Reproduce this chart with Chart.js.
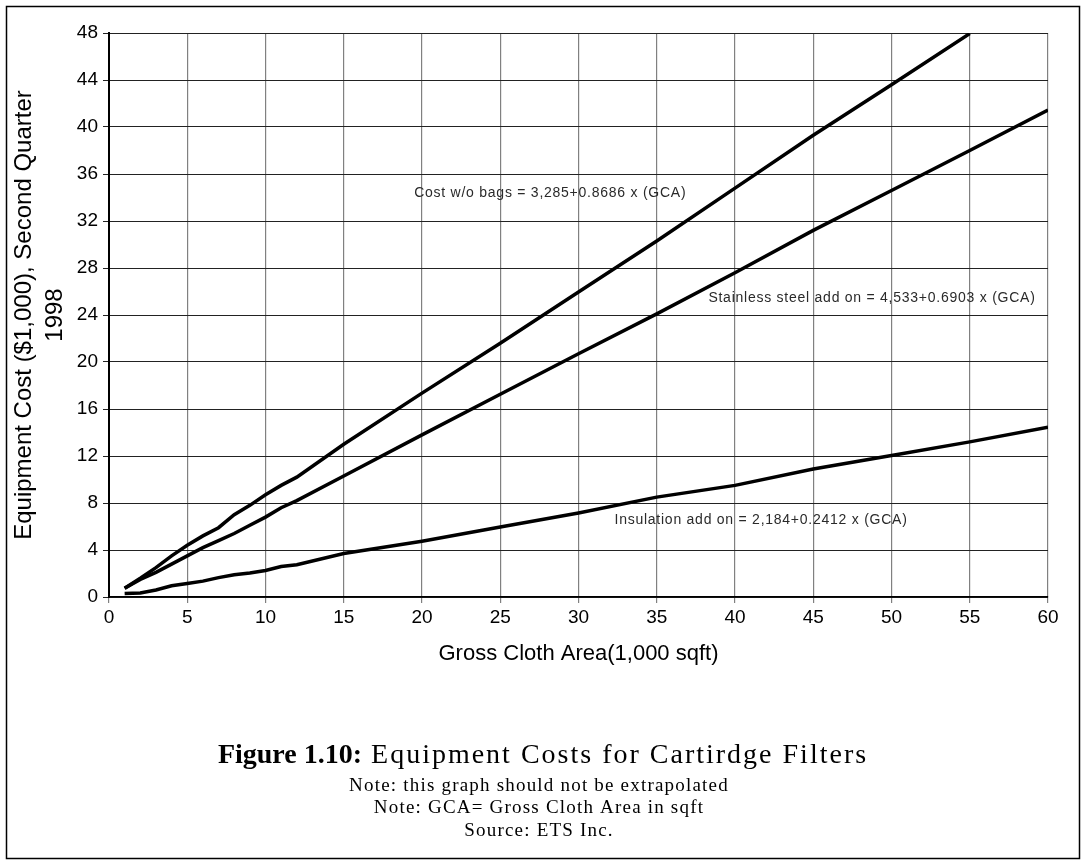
<!DOCTYPE html>
<html>
<head>
<meta charset="utf-8">
<script src="https://cdn.jsdelivr.net/npm/chart.js@4"></script>
<style>
  html, body { margin: 0; padding: 0; background: #fff; }
  #wrap { width: 1086px; height: 866px; }
</style>
</head>
<body>
<div id="wrap"><canvas id="myChart" width="1086" height="866"></canvas></div>
<script>
// Gross cloth area (1,000 sqft)
const gca = [1, 2, 3, 4, 5, 6, 7, 8, 9, 10, 11, 12, 15, 20, 25, 30, 35, 40, 45, 50, 55, 60];

// Equipment cost ($1,000)
const costWoBags = [0.75, 1.6, 2.5, 3.5, 4.4, 5.2, 5.9, 7.0, 7.8, 8.7, 9.5, 10.2, 13.0, 17.35, 21.6, 25.95, 30.3, 34.8, 39.3, 43.6, 47.95, null];
const stainless  = [0.75, 1.5, 2.1, 2.8, 3.5, 4.2, 4.8, 5.4, 6.1, 6.8, 7.6, 8.2, 10.3, 13.8, 17.25, 20.7, 24.1, 27.6, 31.2, 34.6, 38.0, 41.45];
const insulation = [0.3, 0.35, 0.6, 0.95, 1.15, 1.35, 1.65, 1.9, 2.05, 2.25, 2.6, 2.75, 3.7, 4.75, 5.95, 7.15, 8.5, 9.5, 10.9, 12.05, 13.2, 14.45];

// Equation labels and where they sit (data units)
const eqLabels = ['Cost w/o bags = 3,285+0.8686 x (GCA)', 'Stainless steel add on = 4,533+0.6903 x (GCA)', 'Insulation add on = 2,184+0.2412 x (GCA)'];
const eqX = [19.5, 38.3, 32.3];
const eqY = [34.4, 25.4, 6.55];

const toPoints = vals => gca.map((g, i) => ({x: g, y: vals[i]}));

const serif = '"Liberation Serif", "Times New Roman", serif';

// equation texts, caption and the outer frame
const extras = {
    id: 'extras',
    afterDraw(chart) {
        const {ctx, scales: {x, y}} = chart;
        ctx.save();
        ctx.fillStyle = '#2a2a2a';
        ctx.font = '14px "Liberation Sans", Arial, sans-serif';
        ctx.letterSpacing = '0.75px';
        ctx.textBaseline = 'middle';
        ctx.textAlign = 'left';
        eqLabels.forEach((t, i) => {
            ctx.fillText(t, x.getPixelForValue(eqX[i]), y.getPixelForValue(eqY[i]));
        });

        // caption
        ctx.fillStyle = '#000';
        const cx = 543;
        const boldPart = 'Figure 1.10:';
        const rest = ' Equipment Costs for Cartirdge Filters';
        ctx.letterSpacing = '0px';
        ctx.font = 'bold 28px ' + serif;
        const wBold = ctx.measureText(boldPart).width;
        ctx.letterSpacing = '2px';
        ctx.font = '28px ' + serif;
        const wRest = ctx.measureText(rest).width;
        let startX = cx - (wBold + wRest) / 2;
        ctx.textAlign = 'left';
        ctx.letterSpacing = '0px';
        ctx.font = 'bold 28px ' + serif;
        ctx.fillText(boldPart, startX, 756);
        ctx.letterSpacing = '2px';
        ctx.font = '28px ' + serif;
        ctx.fillText(rest, startX + wBold, 756);

        ctx.font = '19px ' + serif;
        ctx.letterSpacing = '1.2px';
        ctx.textAlign = 'center';
        ctx.fillText('Note: this graph should not be extrapolated', 539, 786);
        ctx.fillText('Note: GCA= Gross Cloth Area in sqft', 539, 808);
        ctx.fillText('Source: ETS Inc.', 539, 831);

        // frame
        ctx.strokeStyle = '#000';
        ctx.lineWidth = 1.5;
        ctx.strokeRect(6.5, 6.5, 1073, 852);
        ctx.restore();
    }
};

const lineStyle = {
    borderColor: '#000',
    backgroundColor: '#000',
    borderWidth: 3.5,
    pointRadius: 0,
    tension: 0,
    fill: false,
    clip: 0
};

const myChart = document.getElementById('myChart');

let lineChart = new Chart(myChart, {
    type: 'line',
    data: {
        datasets: [
            {label: 'Cost w/o bags', data: toPoints(costWoBags), ...lineStyle},
            {label: 'Stainless steel add on', data: toPoints(stainless), ...lineStyle},
            {label: 'Insulation add on', data: toPoints(insulation), ...lineStyle}
        ]
    },
    options: {
        responsive: false,
        animation: false,
        layout: {
            padding: {left: 0, top: 33, right: 38, bottom: 199}
        },
        scales: {
            x: {
                type: 'linear',
                min: 0,
                max: 60,
                afterFit: scale => { scale.height = 70; },
                ticks: {
                    stepSize: 5,
                    color: '#000',
                    padding: 3,
                    font: {family: '"Liberation Sans", Arial, sans-serif', size: 19}
                },
                grid: {
                    color: '#808080',
                    lineWidth: 1.2,
                    tickLength: 6
                },
                border: {color: '#000', width: 1.5},
                title: {
                    display: true,
                    text: 'Gross Cloth Area(1,000 sqft)',
                    color: '#000',
                    padding: {top: 3, bottom: 0},
                    font: {family: '"Liberation Sans", Arial, sans-serif', size: 22}
                }
            },
            y: {
                min: 0,
                max: 48,
                afterFit: scale => { scale.width = 109; },
                ticks: {
                    stepSize: 4,
                    color: '#000',
                    padding: 5,
                    font: {family: '"Liberation Sans", Arial, sans-serif', size: 19}
                },
                grid: {
                    color: '#222',
                    lineWidth: 1,
                    tickLength: 6
                },
                border: {color: '#000', width: 2},
                title: {
                    display: true,
                    text: ['Equipment Cost ($1,000), Second Quarter', '1998'],
                    color: '#000',
                    padding: {top: 9, bottom: 0},
                    font: {family: '"Liberation Sans", Arial, sans-serif', size: 24, lineHeight: 1.3}
                }
            }
        },
        plugins: {
            legend: {display: false},
            tooltip: {enabled: false}
        }
    },
    plugins: [extras]
});
</script>
</body>
</html>
